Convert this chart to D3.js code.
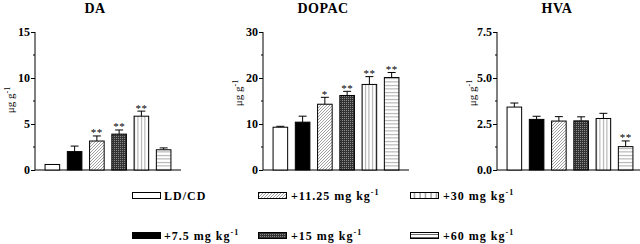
<!DOCTYPE html>
<html>
<head>
<meta charset="utf-8">
<script src="https://cdn.jsdelivr.net/npm/d3@7"></script>
<style>
  body { margin: 0; background: #fff; }
  svg { display: block; }
  text { font-family: "Liberation Serif", "Times New Roman", serif; }
</style>
</head>
<body>
<div id="container"></div>
<script>
// groups (treatments), same order in every panel
const groups = ["LD/CD", "+7.5", "+11.25", "+15", "+30", "+60"];

// DA
const daMean = [0.6, 2.0, 3.15, 3.9, 5.85, 2.2];
const daErr = [0, 0.6, 0.55, 0.45, 0.55, 0.2];
const daStars = ["", "", "**", "**", "**", ""];

// DOPAC
const dopacMean = [9.3, 10.4, 14.3, 16.2, 18.6, 20.1];
const dopacErr = [0.2, 1.3, 1.5, 0.9, 1.7, 1.1];
const dopacStars = ["", "", "*", "**", "**", "**"];

// HVA
const hvaMean = [3.42, 2.75, 2.66, 2.67, 2.8, 1.27];
const hvaErr = [0.22, 0.17, 0.24, 0.22, 0.28, 0.31];
const hvaStars = ["", "", "", "", "", "**"];

const panelTitles = ["DA", "DOPAC", "HVA"];
const yMax = [15, 30, 7.5];
const yTicks = [[0, 5, 10, 15], [0, 10, 20, 30], [0, 2.5, 5, 7.5]];
const tickFormats = ["d", "d", ".1f"];

const legendLabels = ["LD/CD", "+7.5 mg kg", "+11.25 mg kg", "+15 mg kg", "+30 mg kg", "+60 mg kg"];

const panels = [
  { title: panelTitles[0], mean: daMean, err: daErr, stars: daStars },
  { title: panelTitles[1], mean: dopacMean, err: dopacErr, stars: dopacStars },
  { title: panelTitles[2], mean: hvaMean, err: hvaErr, stars: hvaStars }
];

const width = 640, height = 244;
const axisX = [35, 263, 497];     // left axis position of each panel
const yTop = 32, yBottom = 170;

const svg = d3.select("#container").append("svg")
  .attr("width", width)
  .attr("height", height);

// fill patterns
const defs = svg.append("defs");

function pattern(id, w, h, draw) {
  const p = defs.append("pattern")
    .attr("id", id)
    .attr("patternUnits", "userSpaceOnUse")
    .attr("width", w)
    .attr("height", h);
  p.append("rect").attr("width", w).attr("height", h).attr("fill", "#fff");
  draw(p);
}

pattern("diag", 3, 3, p => p.append("path")
  .attr("d", "M-1,1 L1,-1 M0,3 L3,0 M2,4 L4,2")
  .attr("stroke", "#777").attr("stroke-width", 0.7));

pattern("dense", 2, 2, p => {
  p.append("rect").attr("width", 2).attr("height", 2).attr("fill", "#333");
  p.append("rect").attr("width", 1).attr("height", 1).attr("fill", "#8a8a8a");
});

pattern("vert", 3.5, 4, p => p.append("line")
  .attr("x1", 1.5).attr("x2", 1.5).attr("y1", 0).attr("y2", 4)
  .attr("stroke", "#777").attr("stroke-width", 0.7));

pattern("horiz", 4, 3.5, p => p.append("line")
  .attr("x1", 0).attr("x2", 4).attr("y1", 1.5).attr("y2", 1.5)
  .attr("stroke", "#777").attr("stroke-width", 0.7));

pattern("vertLeg", 5.5, 8, p => p.append("line")
  .attr("x1", 2).attr("x2", 2).attr("y1", 0).attr("y2", 8)
  .attr("stroke", "#444").attr("stroke-width", 0.8));

pattern("horizLeg", 30, 3, p => p.append("line")
  .attr("x1", 0).attr("x2", 30).attr("y1", 0.5).attr("y2", 0.5)
  .attr("stroke", "#444").attr("stroke-width", 0.8));

const barFills = ["#fff", "#000", "url(#diag)", "url(#dense)", "url(#vert)", "url(#horiz)"];
const legendFills = ["#fff", "#000", "url(#diag)", "url(#dense)", "url(#vertLeg)", "url(#horizLeg)"];

panels.forEach((panel, i) => {
  const ax = axisX[i];
  const g = svg.append("g");

  const x = d3.scaleBand()
    .domain(groups)
    .range([ax + 4, ax + 142])
    .paddingInner(0.3)
    .paddingOuter(0.25);

  const y = d3.scaleLinear()
    .domain([0, yMax[i]])
    .range([yBottom, yTop]);

  // title
  g.append("text")
    .attr("x", ax + 60)
    .attr("y", 13)
    .attr("text-anchor", "middle")
    .attr("font-size", 14)
    .attr("font-weight", "bold")
    .attr("letter-spacing", 0.5)
    .text(panel.title);

  // y axis
  const yAxis = d3.axisLeft(y)
    .tickValues(yTicks[i])
    .tickFormat(d3.format(tickFormats[i]))
    .tickSize(4)
    .tickPadding(1);
  const axG = g.append("g")
    .attr("transform", `translate(${ax},0)`)
    .call(yAxis);
  axG.select(".domain").attr("d", `M0,${yTop}V${yBottom}`).attr("stroke-width", 1);
  axG.selectAll(".tick text")
    .attr("font-family", "'Liberation Serif', serif")
    .attr("font-size", 12)
    .attr("font-weight", "bold")
    .attr("fill", "#000");

  // minor ticks
  const t = yTicks[i];
  const minor = d3.pairs(t).map(([a, b]) => (a + b) / 2);
  g.selectAll(".minor")
    .data(minor)
    .join("line")
    .attr("x1", ax - 2).attr("x2", ax)
    .attr("y1", d => y(d)).attr("y2", d => y(d))
    .attr("stroke", "#000");

  // baseline
  g.append("line")
    .attr("x1", ax).attr("x2", ax + 146)
    .attr("y1", yBottom).attr("y2", yBottom)
    .attr("stroke", "#000");

  // y label
  const lab = g.append("text")
    .attr("transform", `translate(${ax - 21},${i === 0 ? 100 : 93}) rotate(-90)`)
    .attr("text-anchor", "middle")
    .attr("font-size", 11);
  lab.append("tspan").text("μg g");
  lab.append("tspan").attr("font-size", 8).attr("dy", -4).text("-1");

  const data = groups.map((grp, j) => ({
    grp, mean: panel.mean[j], err: panel.err[j], star: panel.stars[j], fill: barFills[j]
  }));

  // error bars (upper only)
  const cap = 4;
  const eb = g.selectAll(".err").data(data.filter(d => d.err > 0)).join("g");
  eb.append("line")
    .attr("x1", d => x(d.grp) + x.bandwidth() / 2)
    .attr("x2", d => x(d.grp) + x.bandwidth() / 2)
    .attr("y1", d => y(d.mean))
    .attr("y2", d => y(d.mean + d.err))
    .attr("stroke", "#000");
  eb.append("line")
    .attr("x1", d => x(d.grp) + x.bandwidth() / 2 - cap)
    .attr("x2", d => x(d.grp) + x.bandwidth() / 2 + cap)
    .attr("y1", d => y(d.mean + d.err))
    .attr("y2", d => y(d.mean + d.err))
    .attr("stroke", "#000");

  // bars
  g.selectAll(".bar")
    .data(data)
    .join("rect")
    .attr("x", d => x(d.grp) + 0.5)
    .attr("y", d => y(d.mean))
    .attr("width", x.bandwidth() - 1)
    .attr("height", d => yBottom - y(d.mean))
    .attr("fill", d => d.fill)
    .attr("stroke", "#000")
    .attr("stroke-width", 1);

  // significance stars
  g.selectAll(".star")
    .data(data.filter(d => d.star))
    .join("text")
    .attr("x", d => x(d.grp) + x.bandwidth() / 2)
    .attr("y", d => y(d.mean + d.err) + 0.5)
    .attr("text-anchor", "middle")
    .attr("font-size", 11)
    .attr("letter-spacing", 0.5)
    .text(d => d.star);
});

// legend
const legX = [132, 132, 258, 258, 410, 410];
const legY = [192, 232, 192, 232, 192, 232];
const leg = svg.append("g");
legendLabels.forEach((lbl, j) => {
  leg.append("rect")
    .attr("x", legX[j] + 0.5)
    .attr("y", legY[j] + 0.5)
    .attr("width", 28)
    .attr("height", 6)
    .attr("fill", legendFills[j])
    .attr("stroke", "#000");
  const txt = leg.append("text")
    .attr("x", legX[j] + (j === 0 || j === 1 ? 32 : 33))
    .attr("y", legY[j] + 8)
    .attr("font-size", 12)
    .attr("font-weight", "bold")
    .attr("letter-spacing", 1);
  txt.append("tspan").text(lbl);
  if (j > 0) txt.append("tspan").attr("font-size", 8).attr("dy", -5).text("-1");
});
</script>
</body>
</html>
